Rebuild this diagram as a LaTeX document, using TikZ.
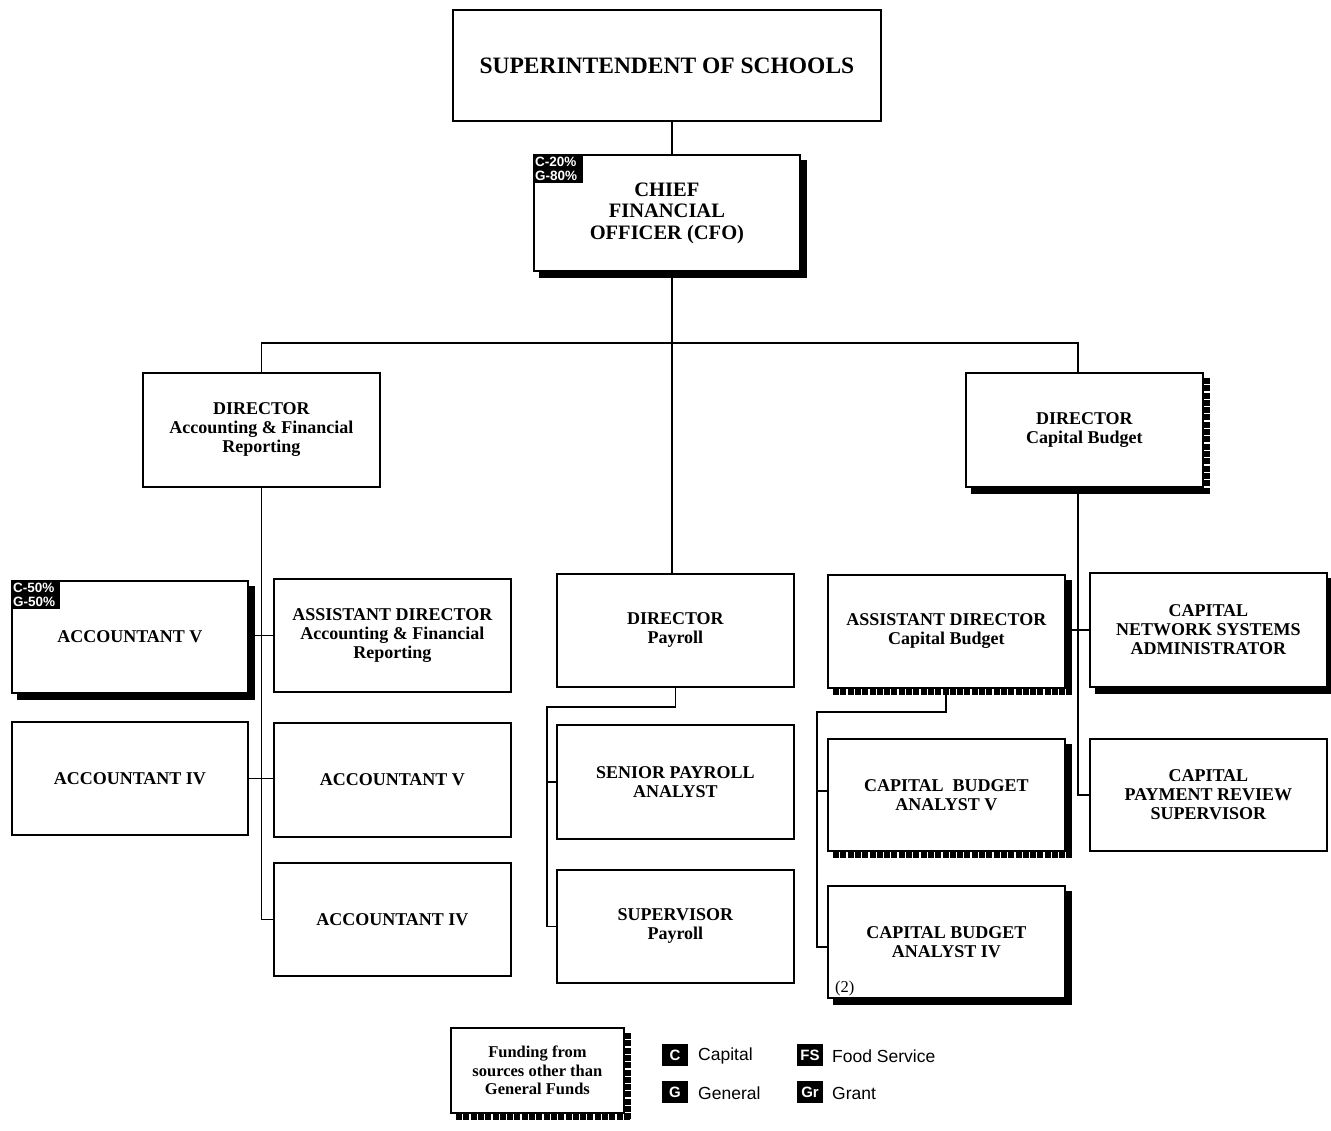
\documentclass[tikz,border=0pt]{standalone}
\usepackage{fontspec}
\setmainfont{Liberation Serif}
\newfontfamily\arialfont{Liberation Sans}
\usetikzlibrary{calc,backgrounds}

\newcommand\boxfont{\fontsize{18}{19}\selectfont\bfseries}
\tikzset{
  x=1pt, y=-1pt,
  box/.style={draw, fill=white, line width=1.8pt, anchor=north west,
    align=center, inner sep=0pt, font=\boxfont},
  conn/.style={line width=1.8pt},
  dotshade/.style={line width=6pt, dash pattern=on 6pt off 1.3pt},
  badge/.style={fill=black, text=white, anchor=north west, inner sep=2pt,
    align=left, font=\arialfont\bfseries\fontsize{13.5}{14}\selectfont},
  keybadge/.style={fill=black, text=white, minimum width=26pt, minimum height=22pt,
    inner sep=0pt, font=\arialfont\bfseries\fontsize{15}{15}\selectfont},
  keytext/.style={anchor=west, inner sep=0pt, font=\arialfont\fontsize{17.5}{18}\selectfont},
}
% \orgbox{name}{x}{y}{width}{height}{text}
\newcommand\orgbox[6]{\node[box, minimum width=#4pt, minimum height=#5pt] (#1) at (#2,#3) {#6};}
% solid or dotted drop shadows to the right and below a box
\newcommand\rshadow[1]{\fill ($(#1.north east)+(0,6)$) rectangle ($(#1.south east)+(6,6)$);}
\newcommand\bshadow[1]{\fill ($(#1.south west)+(6,0)$) rectangle ($(#1.south east)+(6,6)$);}
\newcommand\rdots[1]{\draw[dotshade] ($(#1.north east)+(3,6)$) -- ($(#1.south east)+(3,6)$);}
\newcommand\bdots[1]{\draw[dotshade] ($(#1.south west)+(6,3)$) -- ($(#1.south east)+(6,3)$);}

\begin{document}
\begin{tikzpicture}
\useasboundingbox (0,0) rectangle (1331,1131);

% top of the chart
\node[box, minimum width=428pt, minimum height=111pt,
  font=\fontsize{23.5}{25}\selectfont\bfseries] (sup) at (452,9) {SUPERINTENDENT OF SCHOOLS};
\node[box, minimum width=266pt, minimum height=116pt,
  font=\fontsize{20.5}{21.5}\selectfont\bfseries] (cfo) at (533,154) {CHIEF\\FINANCIAL\\OFFICER (CFO)};
\node[badge, text width=46pt, minimum height=29pt] (cfob) at (533,154) {C-20\%\\G-80\%};

% directors
\orgbox{dirAFR}{142}{372}{237}{114}{DIRECTOR\\Accounting \& Financial\\Reporting}
\orgbox{dirCB}{965}{372}{237}{114}{DIRECTOR\\Capital Budget}
\orgbox{dirPay}{556}{573}{237}{113}{DIRECTOR\\Payroll}

% accounting & financial reporting
\orgbox{accV1}{11}{580}{236}{112}{ACCOUNTANT V}
\node[badge, text width=45pt, minimum height=29pt] (accb) at (11,580) {C-50\%\\G-50\%};
\orgbox{asstAFR}{273}{578}{237}{113}{ASSISTANT DIRECTOR\\Accounting \& Financial\\Reporting}
\orgbox{accIV1}{11}{721}{236}{113}{ACCOUNTANT IV}
\orgbox{accV2}{273}{722}{237}{114}{ACCOUNTANT V}
\orgbox{accIV2}{273}{862}{237}{113}{ACCOUNTANT IV}

% payroll
\orgbox{senPay}{556}{724}{237}{114}{SENIOR PAYROLL\\ANALYST}
\orgbox{supPay}{556}{869}{237}{113}{SUPERVISOR\\Payroll}

% capital budget
\orgbox{asstCB}{827}{574}{237}{113}{ASSISTANT DIRECTOR\\Capital Budget}
\orgbox{cbaV}{827}{738}{237}{112}{CAPITAL\ \ BUDGET\\ANALYST V}
\orgbox{cbaIV}{827}{885}{237}{112}{CAPITAL BUDGET\\ANALYST IV}
\node[anchor=south west, inner sep=0pt, font=\fontsize{16.5}{16.5}\selectfont] (cnt) at (835,996) {(2)};
\orgbox{capNet}{1089}{572}{237}{114}{CAPITAL\\NETWORK SYSTEMS\\ADMINISTRATOR}
\orgbox{capPay}{1089}{738}{237}{112}{CAPITAL\\PAYMENT REVIEW\\SUPERVISOR}

% key
\node[box, minimum width=173pt, minimum height=85pt,
  font=\fontsize{16.5}{18.5}\selectfont\bfseries] (key) at (450,1027) {Funding from\\sources other than\\General Funds};
\node[keybadge] (kC) at (675,1055) {C};
\node[keytext] (kCt) at (698,1056) {Capital};
\node[keybadge] (kG) at (675,1092) {G};
\node[keytext] (kGt) at (698,1093) {General};
\node[keybadge] (kFS) at (810,1055) {FS};
\node[keytext] (kFSt) at (832,1056) {Food Service};
\node[keybadge] (kGr) at (810,1092) {Gr};
\node[keytext] (kGrt) at (832,1093) {Grant};

% joints of the connectors
\coordinate (spine) at (672,0);
\coordinate (bar) at (0,343);
\coordinate (rx) at (1078,0);
\coordinate (pj) at (547,707);
\coordinate (cj) at (817,712);

\begin{pgfonlayer}{background}
  % shadows
  \rshadow{cfo}\bshadow{cfo}
  \rshadow{accV1}\bshadow{accV1}
  \rdots{dirCB}\bshadow{dirCB}
  \rshadow{asstCB}\bdots{asstCB}
  \rshadow{cbaV}\bdots{cbaV}
  \rshadow{cbaIV}\bshadow{cbaIV}
  \rshadow{capNet}\bshadow{capNet}
  \rdots{key}\bdots{key}

  % reporting lines
  \draw[conn] (sup.south -| spine) -- (cfo.north -| spine);
  \draw[conn] (cfo.south -| spine) -- (dirPay.north -| spine);
  \draw[conn] (dirAFR.north) -- (dirAFR.north |- bar) -- (bar -| rx) -- (dirCB.north -| rx);
  \draw[conn] (dirAFR.south) |- (accIV2.west);
  \draw[conn] (accV1.east |- asstAFR.west) -- (asstAFR.west);
  \draw[conn] (accIV1.east) -- (accIV1.east -| accV2.west);
  \draw[conn] (dirPay.south) |- (pj) |- (supPay.west);
  \draw[conn] (senPay.west -| pj) -- (senPay.west);
  \draw[conn] (asstCB.south -| 946,0) |- (cj) |- ($(cbaIV.west)+(0,5)$);
  \draw[conn] ($(cbaV.west -| cj)+(0,-4)$) -- ($(cbaV.west)+(0,-4)$);
  \draw[conn] (dirCB.south -| rx) |- (capPay.west);
  \draw[conn] (asstCB.east |- capNet.west) -- (capNet.west);
\end{pgfonlayer}
\end{tikzpicture}
\end{document}
